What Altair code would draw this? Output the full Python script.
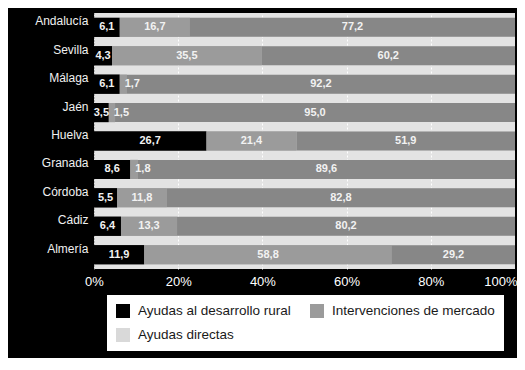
import altair as alt
import pandas as pd

regions = ["Andalucía", "Sevilla", "Málaga", "Jaén", "Huelva", "Granada", "Córdoba", "Cádiz", "Almería"]
series = ["Ayudas al desarrollo rural", "Intervenciones de mercado", "Ayudas directas"]
desarrollo_rural = [6.1, 4.3, 6.1, 3.5, 26.7, 8.6, 5.5, 6.4, 11.9]
intervenciones = [16.7, 35.5, 1.7, 1.5, 21.4, 1.8, 11.8, 13.3, 58.8]
directas = [77.2, 60.2, 92.2, 95.0, 51.9, 89.6, 82.8, 80.2, 29.2]
tick_values = [0, 0.2, 0.4, 0.6, 0.8, 1.0]

bar_colors = ["#000000", "#9b9b9b", "#878787"]
legend_colors = ["#000000", "#9b9b9b", "#d9d9d9"]

rows = []
for i, r in enumerate(regions):
    for j, vals in enumerate([desarrollo_rural, intervenciones, directas]):
        rows.append({"region": r, "serie": series[j], "orden": j, "valor": vals[i]})
df = pd.DataFrame(rows)

FONT = "Liberation Sans"

base = alt.Chart(df).transform_stack(
    stack="valor",
    groupby=["region"],
    as_=["start", "end"],
    sort=[alt.SortField("orden", order="ascending")],
    offset="normalize",
).transform_calculate(
    mid="(datum.start + datum.end) / 2",
    label="replace(format(datum.valor, '.1f'), '.', ',')",
)

x_scale = alt.Scale(domain=[0, 1], nice=False, zero=True)
x_axis = alt.Axis(
    format="%",
    values=tick_values,
    title=None,
    ticks=False,
    domain=False,
    grid=True,
    gridColor="white",
    gridDash=[2, 2],
    gridWidth=1,
    gridOpacity={"condition": {"test": "datum.value == 0 || datum.value == 1", "value": 0}, "value": 1},
    labelFont=FONT,
    labelFontSize=13,
    labelColor="#ffffff",
    labelPadding=6,
    labelAlign={"condition": {"test": "datum.value == 1", "value": "right"}, "value": "center"},
    labelOffset={"condition": {"test": "datum.value == 1", "value": 2}, "value": 0},
)
y_enc = alt.Y(
    "region:N",
    sort=regions,
    title=None,
    scale=alt.Scale(paddingInner=0.33, paddingOuter=0.17),
    axis=alt.Axis(
        ticks=False,
        grid=False,
        domain=True,
        domainColor="#8a8a8a",
        domainDash=[1, 2],
        domainWidth=1,
        labelFont=FONT,
        labelFontSize=12,
        labelColor="#f0f0f0",
        labelPadding=6,
        labelOffset=-6,
    ),
)

legend_layer = base.mark_bar().encode(
    x=alt.X("start:Q", scale=x_scale, axis=x_axis),
    x2="end:Q",
    y=y_enc,
    color=alt.Color(
        "serie:N",
        sort=series,
        scale=alt.Scale(domain=series, range=legend_colors),
        legend=alt.Legend(
            title=None,
            values=series,
            orient="none",
            direction="horizontal",
            legendX=13,
            legendY=282,
            columns=2,
            columnPadding=19,
            rowPadding=10,
            padding=9,
            fillColor="white",
            symbolType="square",
            symbolSize=196,
            symbolStrokeWidth=0,
            labelFont=FONT,
            labelFontSize=13.5,
            labelColor="#1a1a1a",
            labelOffset=8,
            labelLimit=300,
        ),
    ),
    order=alt.Order("orden:Q"),
)

bars = base.mark_bar().encode(
    x=alt.X("start:Q", scale=x_scale, axis=x_axis),
    x2="end:Q",
    y=y_enc,
    color=alt.Color("serie:N", sort=series, scale=alt.Scale(domain=series, range=bar_colors), legend=None),
    order=alt.Order("orden:Q"),
)

text_big = base.transform_filter("datum.valor >= 3").mark_text(
    font=FONT, fontSize=11, fontWeight="bold", color="#f2f2f2", align="center", baseline="middle"
).encode(
    x=alt.X("mid:Q", scale=x_scale, axis=x_axis),
    y=y_enc,
    text="label:N",
)

text_small = base.transform_filter("datum.valor < 3").mark_text(
    font=FONT, fontSize=11, fontWeight="bold", color="#f2f2f2", align="left", baseline="middle", dx=5
).encode(
    x=alt.X("start:Q", scale=x_scale, axis=x_axis),
    y=y_enc,
    text="label:N",
)

chart = alt.layer(legend_layer, bars, text_big, text_small).resolve_scale(
    color="independent"
).properties(
    width=421,
    height=256,
    autosize=alt.AutoSizeParams(type="none"),
    padding={"left": 86, "top": 5, "right": 2, "bottom": 89},
    background="#000000",
).configure_view(
    fill="#e3e3e3",
    strokeWidth=0,
)

chart.save("out.html", embed_options={"renderer": "svg", "actions": False})
